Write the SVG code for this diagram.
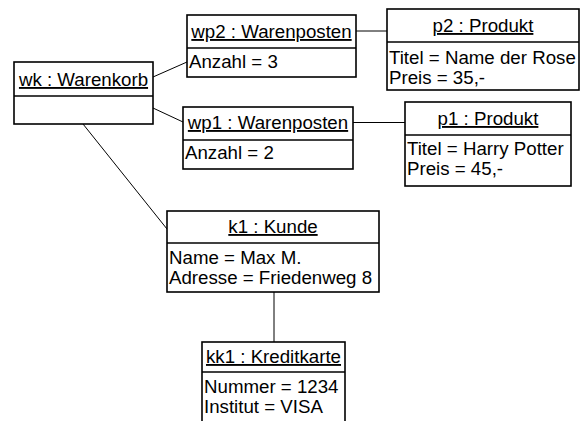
<svg xmlns="http://www.w3.org/2000/svg" width="581" height="421" viewBox="0 0 581 421">
<style>
.box{fill:#fff;stroke:#000;stroke-width:1.6}
.div{stroke:#000;stroke-width:1.6}
.t{font-family:"Liberation Sans",Arial,sans-serif;font-size:18.7px;fill:#000}
.ti{text-anchor:middle;text-decoration:underline}
.con line{stroke:#000;stroke-width:1}
</style>
<rect width="581" height="421" fill="#fff"/>
<g id="connectors" class="con">
<line x1="153" y1="77" x2="187" y2="62"/>
<line x1="153" y1="108" x2="183" y2="122"/>
<line x1="83" y1="124" x2="167" y2="229"/>
<line x1="356" y1="31" x2="387" y2="31"/>
<line x1="353" y1="122.5" x2="405" y2="122.5"/>
<line x1="274" y1="292" x2="274" y2="342"/>
</g>
<g id="wk">
<rect class="box" x="14" y="62" width="139" height="62"/>
<line class="div" x1="14" y1="96" x2="153" y2="96"/>
<text class="t ti" x="83.5" y="86">wk : Warenkorb</text>
</g>
<g id="wp2">
<rect class="box" x="187" y="15" width="169" height="62"/>
<line class="div" x1="187" y1="48" x2="356" y2="48"/>
<text class="t ti" x="271.5" y="38">wp2 : Warenposten</text>
<text class="t" x="189" y="68">Anzahl = 3</text>
</g>
<g id="p2">
<rect class="box" x="387" y="9" width="192" height="81"/>
<line class="div" x1="387" y1="42" x2="579" y2="42"/>
<text class="t ti" x="483" y="32">p2 : Produkt</text>
<text class="t" x="389" y="64">Titel = Name der Rose</text>
<text class="t" x="389" y="84">Preis = 35,-</text>
</g>
<g id="wp1">
<rect class="box" x="183" y="107" width="170" height="62"/>
<line class="div" x1="183" y1="140" x2="353" y2="140"/>
<text class="t ti" x="268" y="129">wp1 : Warenposten</text>
<text class="t" x="185" y="159">Anzahl = 2</text>
</g>
<g id="p1">
<rect class="box" x="405" y="102" width="166" height="84"/>
<line class="div" x1="405" y1="135" x2="571" y2="135"/>
<text class="t ti" x="488" y="125">p1 : Produkt</text>
<text class="t" x="407" y="155">Titel = Harry Potter</text>
<text class="t" x="407" y="175">Preis = 45,-</text>
</g>
<g id="k1">
<rect class="box" x="167" y="211" width="212" height="81"/>
<line class="div" x1="167" y1="243" x2="379" y2="243"/>
<text class="t ti" x="273" y="233">k1 : Kunde</text>
<text class="t" x="169" y="264">Name = Max M.</text>
<text class="t" x="169" y="284">Adresse = Friedenweg 8</text>
</g>
<g id="kk1">
<rect class="box" x="202" y="342" width="143" height="100"/>
<line class="div" x1="202" y1="372" x2="345" y2="372"/>
<text class="t ti" x="273.5" y="363">kk1 : Kreditkarte</text>
<text class="t" x="204" y="393">Nummer = 1234</text>
<text class="t" x="204" y="413">Institut = VISA</text>
</g>
</svg>
